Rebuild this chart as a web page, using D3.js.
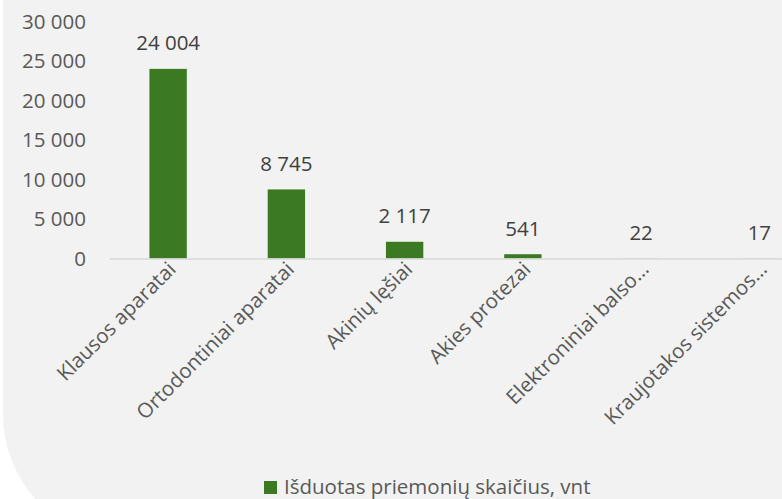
<!DOCTYPE html>
<html><head><meta charset="utf-8">
<script src="https://cdn.jsdelivr.net/npm/d3@7/dist/d3.min.js"></script>
<style>html,body{margin:0;padding:0;background:#fff;}svg{display:block;}</style>
</head><body><svg id="c" width="782" height="499"></svg>
<script>
const categories = ["Klausos aparatai","Ortodontiniai aparatai","Akinių lęšiai","Akies protezai","Elektroniniai balso…","Kraujotakos sistemos…"];
const values = [24004, 8745, 2117, 541, 22, 17];
const valueLabels = ["24 004","8 745","2 117","541","22","17"];
const yTicks = [0,5000,10000,15000,20000,25000,30000];
const yTickLabels = ["0","5 000","10 000","15 000","20 000","25 000","30 000"];
const seriesName = "Išduotas priemonių skaičius, vnt";

const font = "'Open Sans', sans-serif";
const fs = 20.5;
const txt = "#595959";
const svg = d3.select("#c");
svg.append("rect").attr("x",3).attr("y",-200).attr("width",1000).attr("height",742).attr("rx",128).attr("ry",128).attr("fill","#f2f2f2");

const x = d3.scaleBand().domain(categories).range([109, 818.5]).paddingInner(0.684).paddingOuter(0.342);
const y = d3.scaleLinear().domain([0,30000]).range([258.5, 21.5]);

// y axis labels
const ya = svg.append("g").attr("transform","translate(86,0)")
  .call(d3.axisLeft(y).tickValues(yTicks).tickSize(0).tickPadding(0).tickFormat((d,i)=>yTickLabels[i]));
ya.select(".domain").remove();
ya.selectAll("text").attr("font-family",font).attr("font-size",fs).attr("fill",txt);

// bars
svg.append("g").selectAll("rect").data(values).join("rect")
  .attr("x",(d,i)=>x(categories[i])).attr("width",x.bandwidth())
  .attr("y",d=>y(d)).attr("height",d=>y(0)-y(d)).attr("fill","#3b7a22");

// x axis
const xa = svg.append("g").attr("transform",`translate(0,${y(0)})`)
  .call(d3.axisBottom(x).tickSize(0).tickPadding(0));
xa.select(".domain").attr("stroke","#d9d9d9").attr("stroke-width",1.5);
xa.selectAll("text").attr("font-family",font).attr("font-size",fs).attr("fill",txt)
  .attr("text-anchor","end").attr("dy",null).attr("y",0)
  .attr("transform","translate(9,12) rotate(-45)");

// value labels
svg.append("g").selectAll("text").data(values).join("text")
  .attr("x",(d,i)=>x(categories[i])+x.bandwidth()/2).attr("y",d=>y(d)-18.5)
  .attr("text-anchor","middle").attr("font-family",font).attr("font-size",fs).attr("fill","#404040")
  .text((d,i)=>valueLabels[i]);

// legend
svg.append("rect").attr("x",264).attr("y",481).attr("width",13).attr("height",13).attr("fill","#3b7a22");
svg.append("text").attr("x",284).attr("y",494).attr("font-family",font).attr("font-size",fs).attr("fill",txt).text(seriesName);
</script></body></html>
